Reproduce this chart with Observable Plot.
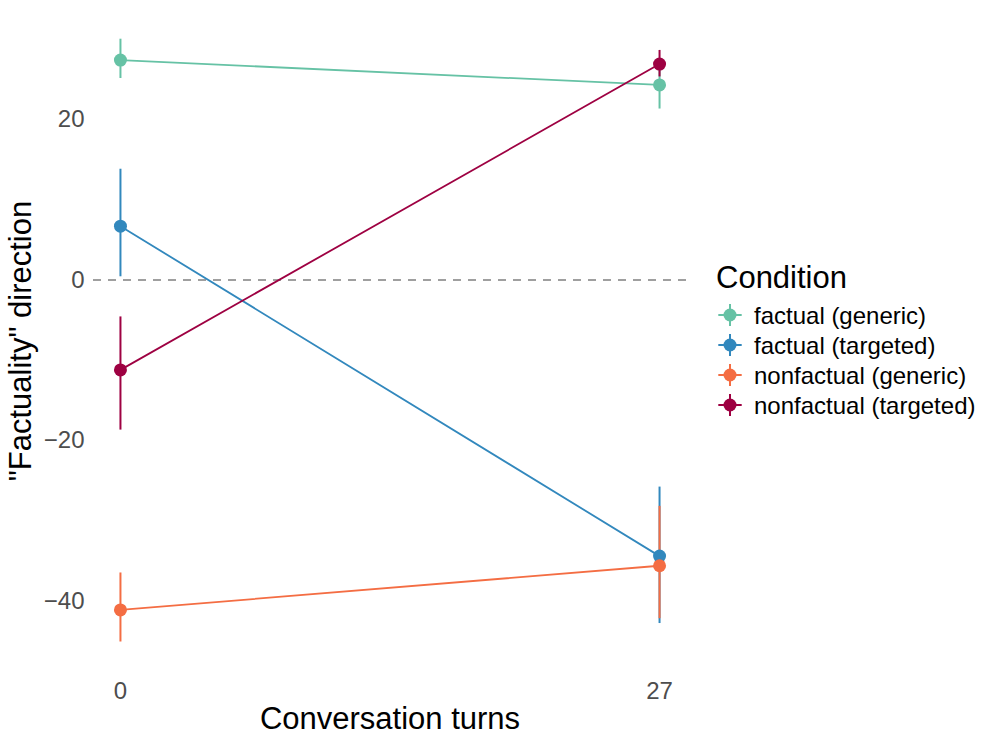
<!DOCTYPE html>
<html><head><meta charset="utf-8">
<script src="https://cdn.jsdelivr.net/npm/d3@7"></script>
<script src="https://cdn.jsdelivr.net/npm/@observablehq/plot@0.6"></script>
<style>
body{margin:0;background:#fff;font-family:"Liberation Sans",Arial,Helvetica,sans-serif;}
#wrap{position:relative;width:996px;height:747px;background:#fff;}
#chart{position:absolute;left:0;top:0;}
#legend{position:absolute;left:700px;top:0;}
</style></head><body>
<div id="wrap"><div id="chart"></div><svg id="legend" width="296" height="747"></svg></div>
<script>
// ---- data ----
const conditions = ["factual (generic)", "factual (targeted)", "nonfactual (generic)", "nonfactual (targeted)"];
const colors = ["#66C2A5", "#3288BD", "#F46D43", "#9E0142"];
const turns = [0, 27];
const meanTurn0  = [27.4,   6.7, -41.1, -11.2];
const meanTurn27 = [24.3, -34.4, -35.6,  26.9];
const lowTurn0   = [25.1,   0.4, -45.1, -18.7];
const lowTurn27  = [21.3, -42.8, -42.2,  25.3];
const highTurn0  = [30.0,  13.8, -36.5,  -4.6];
const highTurn27 = [27.3, -25.8, -28.2,  28.6];
const yTicks = [20, 0, -20, -40];
const xTitle = "Conversation turns";
const yTitle = "\"Factuality\" direction";
const legendTitle = "Condition";

const rows = [];
conditions.forEach((c, i) => {
  rows.push({condition: c, turn: turns[0], mean: meanTurn0[i], low: lowTurn0[i], high: highTurn0[i]});
  rows.push({condition: c, turn: turns[1], mean: meanTurn27[i], low: lowTurn27[i], high: highTurn27[i]});
});

const font = "'Liberation Sans', Arial, Helvetica, sans-serif";

const chart = Plot.plot({
  width: 700, height: 747,
  marginLeft: 93, marginRight: 14, marginTop: 9, marginBottom: 75,
  style: {fontFamily: font, background: "white", overflow: "visible"},
  x: {domain: [-1.35, 28.35]},
  y: {domain: [-48.9, 33.7]},
  color: {domain: conditions, range: colors},
  marks: [
    Plot.ruleY([0], {stroke: "#808080", strokeWidth: 1.6, strokeDasharray: "8,7"}),
    Plot.line(rows, {x: "turn", y: "mean", z: "condition", stroke: "condition", strokeWidth: 1.8}),
    Plot.ruleX(rows, {x: "turn", y1: "low", y2: "high", stroke: "condition", strokeWidth: 2}),
    Plot.dot(rows, {x: "turn", y: "mean", fill: "condition", r: 6.5}),
    Plot.axisX(turns, {tickSize: 0, tickPadding: 9, fontSize: 24, fill: "#4d4d4d", label: null}),
    Plot.axisY(yTicks, {tickSize: 0, tickPadding: 9, fontSize: 24, fill: "#4d4d4d", label: null}),
    Plot.text([xTitle], {frameAnchor: "bottom", dy: 47, text: d => d, fontSize: 31, fill: "black", textAnchor: "middle", lineAnchor: "middle"}),
    Plot.text([yTitle], {frameAnchor: "left", dx: -72, rotate: -90, text: d => d, fontSize: 31, fill: "black", textAnchor: "middle", lineAnchor: "middle"})
  ]
});
document.getElementById("chart").appendChild(chart);

// ---- legend ----
const lg = d3.select("#legend").style("font-family", font);
lg.append("text").attr("x", 16).attr("y", 288).attr("font-size", 31).attr("fill", "black").text(legendTitle);
const item = lg.selectAll("g.item").data(conditions).join("g")
  .attr("class", "item")
  .attr("transform", (d, i) => `translate(30, ${315 + i * 30})`);
item.append("line").attr("x1", -11.7).attr("x2", 11.7).attr("y1", 0).attr("y2", 0)
  .attr("stroke", (d, i) => colors[i]).attr("stroke-width", 2);
item.append("line").attr("x1", 0).attr("x2", 0).attr("y1", -11).attr("y2", 11)
  .attr("stroke", (d, i) => colors[i]).attr("stroke-width", 2);
item.append("circle").attr("r", 6.5).attr("fill", (d, i) => colors[i]);
item.append("text").attr("x", 24).attr("y", 8.6).attr("font-size", 24).attr("fill", "black").text(d => d);
</script>
</body></html>
